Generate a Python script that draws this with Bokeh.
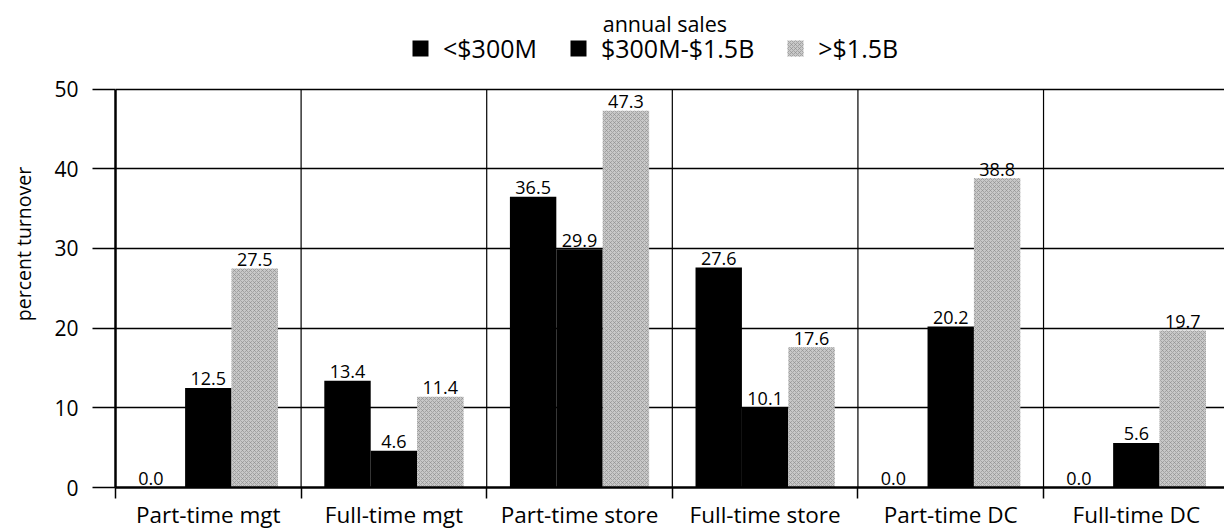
from bokeh.plotting import figure
from bokeh.models import ColumnDataSource, Range1d, FixedTicker, Label, Legend, LegendItem
from bokeh.core.properties import value
from bokeh.embed import file_html
from bokeh.resources import INLINE

categories = ["Part-time mgt", "Full-time mgt", "Part-time store",
              "Full-time store", "Part-time DC", "Full-time DC"]
series_names = ["<$300M", "$300M-$1.5B", ">$1.5B"]
small = [0.0, 13.4, 36.5, 27.6, 0.0, 0.0]
mid = [12.5, 4.6, 29.9, 10.1, 20.2, 5.6]
large = [27.5, 11.4, 47.3, 17.6, 38.8, 19.7]
y_ticks = [0, 10, 20, 30, 40, 50]

FONT = "Open Sans"
W, H = 1224, 532
# frame spans the full height so that the legend/heading above the 50 line
# can be drawn inside it; axis and grid are bounded to 0..50
p = figure(width=W, height=H, output_backend="svg", toolbar_location=None,
           x_range=Range1d(0, 5.975), y_range=Range1d(0, 61.125),
           min_border_left=115, min_border_right=0, min_border_top=0,
           min_border_bottom=43)
p.outline_line_color = None

n = len(categories)
centers = [i + 0.5 for i in range(n)]
bounds = list(range(n + 1))

# group separators (vertical lines from 0 to the top tick)
p.segment(x0=bounds[1:], y0=[y_ticks[0]] * n, x1=bounds[1:], y1=[y_ticks[-1]] * n,
          line_color="black", line_width=1.2)

offsets = [-0.25, 0.0, 0.25]
bar_w = 0.25
fills = ["black", "black", "#c8c8c8"]
renderers = []
for k, (vals, name) in enumerate(zip([small, mid, large], series_names)):
    xs = [c + offsets[k] for c in centers]
    src = ColumnDataSource(dict(
        x=xs, top=vals,
        label=[f"{v:.1f}" for v in vals],
        xo=[-11 if v == 0 else 0 for v in vals]))
    kw = {}
    if k == 2:
        kw = dict(hatch_pattern="x", hatch_color="#8a8a8a", hatch_scale=4,
                  hatch_weight=0.6)
    r = p.vbar(x="x", top="top", bottom=0, width=bar_w, source=src,
               fill_color=fills[k], line_color=None, **kw)
    renderers.append(r)
    p.text(x="x", y="top", text="label", source=src, x_offset="xo",
           y_offset=-9, text_align="center", text_baseline="alphabetic",
           text_font=value(FONT), text_font_size="18px", text_color="black")

# x axis
p.xaxis.ticker = FixedTicker(ticks=centers, minor_ticks=bounds)
p.xaxis.major_label_overrides = {c: cat for c, cat in zip(centers, categories)}
p.xaxis.major_tick_out = 0
p.xaxis.major_tick_in = 0
p.xaxis.minor_tick_out = 11
p.xaxis.minor_tick_in = 0
p.xaxis.minor_tick_line_color = "black"
p.xaxis.minor_tick_line_width = 1.5
p.xaxis.axis_line_width = 2.5
p.xaxis.axis_line_color = "black"
p.xaxis.major_label_text_font = FONT
p.xaxis.major_label_text_font_size = "22.5px"
p.xaxis.major_label_text_color = "black"
p.xaxis.major_label_standoff = 0

# y axis
p.yaxis.ticker = FixedTicker(ticks=y_ticks)
p.yaxis.bounds = (y_ticks[0], y_ticks[-1])
p.yaxis.major_tick_out = 23
p.yaxis.major_tick_in = 0
p.yaxis.major_tick_line_width = 1.5
p.yaxis.major_tick_line_color = "black"
p.yaxis.minor_tick_line_color = None
p.yaxis.axis_line_width = 2.5
p.yaxis.axis_line_color = "black"
p.yaxis.major_label_text_font = FONT
p.yaxis.major_label_text_font_size = "21px"
p.yaxis.major_label_text_color = "black"
p.yaxis.major_label_standoff = 14
p.yaxis.axis_label = "percent turnover"
p.yaxis.axis_label_text_font = FONT
p.yaxis.axis_label_text_font_size = "19.5px"
p.yaxis.axis_label_text_font_style = "normal"
p.yaxis.axis_label_text_color = "black"
p.yaxis.axis_label_standoff = 14

# grids
p.ygrid.ticker = FixedTicker(ticks=y_ticks[1:])
p.ygrid.grid_line_color = "black"
p.ygrid.grid_line_width = 1.5
p.xgrid.grid_line_color = None

# legend
legend = Legend(items=[LegendItem(label=value(nm), renderers=[r])
                       for nm, r in zip(series_names, renderers)],
                orientation="horizontal", location=(295, 422),
                border_line_color=None, background_fill_alpha=0,
                padding=0, margin=0, spacing=31, label_standoff=13,
                glyph_width=20, glyph_height=20, label_height=24,
                label_text_font=FONT, label_text_font_size="25px",
                label_text_color="black")
p.add_layout(legend, "center")

p.add_layout(Label(x=2.96, y=58.25, text="annual sales", text_align="center",
                   text_baseline="middle", text_font=FONT,
                   text_font_size="21.5px", text_color="black"))

open("out.html", "w").write(file_html(p, INLINE))
